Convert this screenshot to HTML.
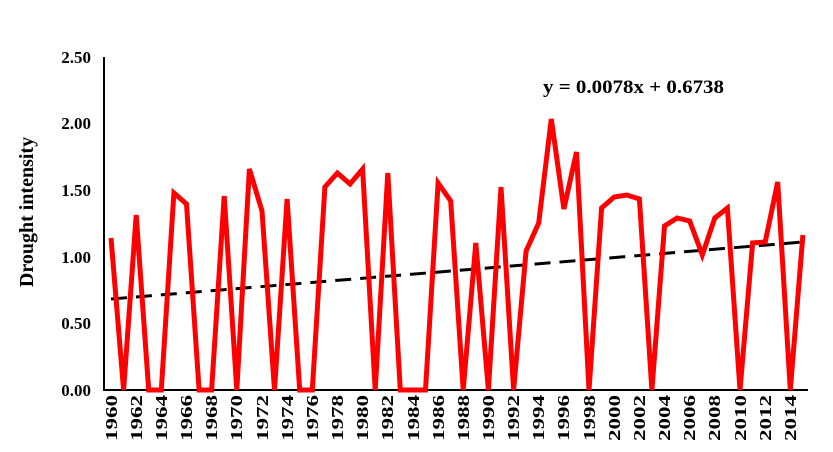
<!DOCTYPE html>
<html><head><style>body{margin:0;background:#fff}</style></head><body>
<svg width="833" height="447" xmlns="http://www.w3.org/2000/svg" font-family="Liberation Serif, serif" font-weight="bold">
<line x1="104" y1="57" x2="104" y2="391" stroke="#000" stroke-width="2"/>
<line x1="103" y1="390" x2="808" y2="390" stroke="#000" stroke-width="2"/>
<g font-size="17" text-anchor="end">
<text x="91" y="63">2.50</text><text x="91" y="129">2.00</text><text x="91" y="196">1.50</text>
<text x="91" y="263">1.00</text><text x="91" y="329">0.50</text><text x="91" y="396">0.00</text>
</g>
<text transform="translate(33,212) rotate(-90)" font-size="20" text-anchor="middle">Drought intensity</text>
<text x="543" y="93" font-size="19" textLength="181" lengthAdjust="spacingAndGlyphs">y = 0.0078x + 0.6738</text>
<line x1="111" y1="299" x2="803" y2="242" stroke="#000" stroke-width="3" stroke-dasharray="16,9"/>
<polyline fill="none" stroke="#f00" stroke-width="5" stroke-linejoin="miter" points="111,238 123.6,390 136.2,215 148.7,390 161.3,390 173.9,193 186.5,204 199.1,390 211.6,390 224.2,196 236.8,390 249.4,169 262,211 274.5,390 287.1,199 299.7,390 312.3,390 324.9,187 337.4,173 350,184 362.6,169 375.2,390 387.8,173 400.3,390 412.9,390 425.5,390 438.1,183 450.7,201 463.2,390 475.8,243 488.4,390 501,187 513.6,390 526.1,251 538.7,223 551.3,119 563.9,209 576.5,152 589,390 601.6,208 614.2,197 626.8,195 639.4,199 651.9,390 664.5,226 677.1,218 689.7,221 702.3,255 714.8,218 727.4,208 740,390 752.6,243 765.2,242 777.7,182 790.3,390 802.9,235"/>
<g font-size="17" text-anchor="start">
<text transform="translate(117,441) rotate(-90)" textLength="46" lengthAdjust="spacingAndGlyphs">1960</text>
<text transform="translate(142,441) rotate(-90)" textLength="46" lengthAdjust="spacingAndGlyphs">1962</text>
<text transform="translate(167,441) rotate(-90)" textLength="46" lengthAdjust="spacingAndGlyphs">1964</text>
<text transform="translate(192,441) rotate(-90)" textLength="46" lengthAdjust="spacingAndGlyphs">1966</text>
<text transform="translate(217,441) rotate(-90)" textLength="46" lengthAdjust="spacingAndGlyphs">1968</text>
<text transform="translate(242,441) rotate(-90)" textLength="46" lengthAdjust="spacingAndGlyphs">1970</text>
<text transform="translate(268,441) rotate(-90)" textLength="46" lengthAdjust="spacingAndGlyphs">1972</text>
<text transform="translate(293,441) rotate(-90)" textLength="46" lengthAdjust="spacingAndGlyphs">1974</text>
<text transform="translate(318,441) rotate(-90)" textLength="46" lengthAdjust="spacingAndGlyphs">1976</text>
<text transform="translate(343,441) rotate(-90)" textLength="46" lengthAdjust="spacingAndGlyphs">1978</text>
<text transform="translate(368,441) rotate(-90)" textLength="46" lengthAdjust="spacingAndGlyphs">1980</text>
<text transform="translate(393,441) rotate(-90)" textLength="46" lengthAdjust="spacingAndGlyphs">1982</text>
<text transform="translate(419,441) rotate(-90)" textLength="46" lengthAdjust="spacingAndGlyphs">1984</text>
<text transform="translate(444,441) rotate(-90)" textLength="46" lengthAdjust="spacingAndGlyphs">1986</text>
<text transform="translate(469,441) rotate(-90)" textLength="46" lengthAdjust="spacingAndGlyphs">1988</text>
<text transform="translate(494,441) rotate(-90)" textLength="46" lengthAdjust="spacingAndGlyphs">1990</text>
<text transform="translate(519,441) rotate(-90)" textLength="46" lengthAdjust="spacingAndGlyphs">1992</text>
<text transform="translate(544,441) rotate(-90)" textLength="46" lengthAdjust="spacingAndGlyphs">1994</text>
<text transform="translate(569,441) rotate(-90)" textLength="46" lengthAdjust="spacingAndGlyphs">1996</text>
<text transform="translate(595,441) rotate(-90)" textLength="46" lengthAdjust="spacingAndGlyphs">1998</text>
<text transform="translate(620,441) rotate(-90)" textLength="46" lengthAdjust="spacingAndGlyphs">2000</text>
<text transform="translate(645,441) rotate(-90)" textLength="46" lengthAdjust="spacingAndGlyphs">2002</text>
<text transform="translate(670,441) rotate(-90)" textLength="46" lengthAdjust="spacingAndGlyphs">2004</text>
<text transform="translate(695,441) rotate(-90)" textLength="46" lengthAdjust="spacingAndGlyphs">2006</text>
<text transform="translate(720,441) rotate(-90)" textLength="46" lengthAdjust="spacingAndGlyphs">2008</text>
<text transform="translate(746,441) rotate(-90)" textLength="46" lengthAdjust="spacingAndGlyphs">2010</text>
<text transform="translate(771,441) rotate(-90)" textLength="46" lengthAdjust="spacingAndGlyphs">2012</text>
<text transform="translate(796,441) rotate(-90)" textLength="46" lengthAdjust="spacingAndGlyphs">2014</text>
</g>
</svg>
</body></html>
